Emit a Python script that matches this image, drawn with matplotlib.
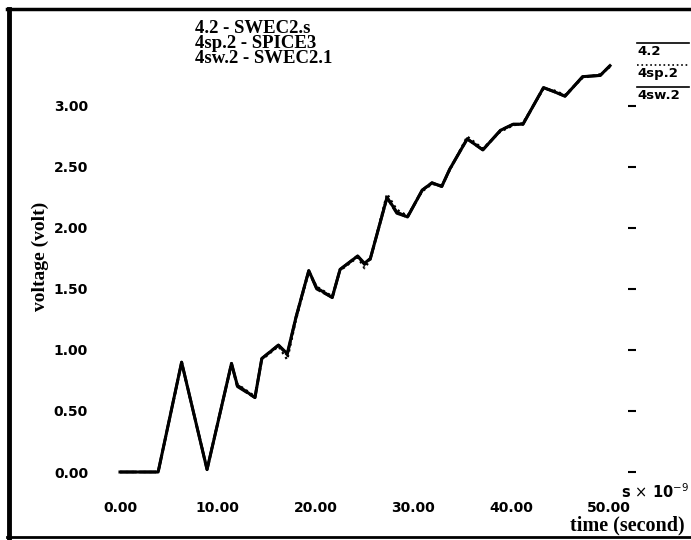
import matplotlib
matplotlib.use("Agg")
import matplotlib.pyplot as plt
from matplotlib.lines import Line2D

# time in ns, voltage in volt
t_ns = [0, 3.9, 6.3, 8.9, 11.4, 12.0, 13.8, 14.5, 16.2, 17.1, 18.0, 19.3, 20.1,
        21.7, 22.5, 24.3, 25.0, 25.6, 27.3, 28.3, 29.4, 30.9, 31.9, 32.9, 33.7,
        35.5, 37.1, 38.9, 40.2, 41.2, 43.3, 44.3, 45.5, 47.3, 49.1, 50.1]
v_swec2s = [0.00, 0.00, 0.90, 0.02, 0.89, 0.71, 0.61, 0.93, 1.04, 0.97, 1.27, 1.65, 1.51,
            1.43, 1.66, 1.77, 1.71, 1.75, 2.25, 2.13, 2.09, 2.31, 2.37, 2.34, 2.48,
            2.73, 2.64, 2.80, 2.85, 2.85, 3.15, 3.12, 3.08, 3.24, 3.25, 3.33]
v_spice3 = [0.00, 0.00, 0.89, 0.03, 0.88, 0.72, 0.62, 0.92, 1.03, 0.92, 1.25, 1.64, 1.52,
            1.44, 1.65, 1.76, 1.67, 1.74, 2.28, 2.15, 2.10, 2.30, 2.36, 2.35, 2.47,
            2.75, 2.65, 2.79, 2.84, 2.86, 3.14, 3.13, 3.09, 3.23, 3.26, 3.32]
v_swec21 = [0.00, 0.00, 0.90, 0.02, 0.89, 0.70, 0.61, 0.93, 1.04, 0.96, 1.27, 1.65, 1.50,
            1.43, 1.66, 1.77, 1.70, 1.75, 2.25, 2.12, 2.09, 2.31, 2.37, 2.34, 2.48,
            2.73, 2.64, 2.80, 2.85, 2.85, 3.15, 3.12, 3.08, 3.24, 3.25, 3.33]

xticks = [0, 10, 20, 30, 40, 50]
yticks = [0.0, 0.5, 1.0, 1.5, 2.0, 2.5, 3.0]

W, H = 691, 540
fig = plt.figure(figsize=(6.91, 5.4), dpi=100)
ax = fig.add_axes([120 / W, 68 / H, 512 / W, 404 / H])

ax.plot(t_ns, v_swec21, color="black", lw=2.0, ls=(0, (6, 1)), clip_on=False)
ax.plot(t_ns, v_spice3, color="black", lw=1.6, ls=":", clip_on=False)
ax.plot(t_ns, v_swec2s, color="black", lw=2.2, clip_on=False)

ax.set_xlim(0, 52.35)
ax.set_ylim(0, 3.311)
for s in ax.spines.values():
    s.set_visible(False)

ax.set_xticks(xticks)
ax.set_xticklabels(["%.2f" % x for x in xticks], fontsize=10, fontweight="bold")
ax.set_yticks(yticks)
ax.set_yticklabels(["%.2f" % y for y in yticks], fontsize=10, fontweight="bold")
ax.tick_params(axis="x", length=0, pad=21)
ax.tick_params(axis="y", left=False, right=True, labelleft=True, direction="inout",
               length=6, width=1.5, pad=20)

serif = "Liberation Serif"
fig.text(40 / W, 1 - 256 / H, "voltage (volt)", rotation=90, ha="center", va="center",
         family=serif, fontweight="bold", fontsize=14)
fig.text(685 / W, 1 - 525 / H, "time (second)", ha="right", va="center",
         family=serif, fontweight="bold", fontsize=14.5)
fig.text(689 / W, 1 - 492 / H, r"s $\times$ 10$^{-9}$", ha="right", va="center",
         fontweight="bold", fontsize=10.5)

# legend text, top left (one block, tight line pitch like the original)
names = ["4.2 - SWEC2.s", "4sp.2 - SPICE3", "4sw.2 - SWEC2.1"]
fig.text(195 / W, 1 - 20 / H, "\n".join(names), ha="left", va="top",
         family=serif, fontweight="bold", fontsize=13.5, linespacing=0.86)

# legend samples, top right
keys = ["4.2", "4sp.2", "4sw.2"]
styles = ["-", ":", "-"]
for i, (k, st) in enumerate(zip(keys, styles)):
    yl = 1 - (43 + 22 * i) / H
    fig.add_artist(Line2D([637 / W, 689 / W], [yl, yl], color="black", lw=1.2, ls=st))
    fig.text(637 / W, yl - 2 / H, k, ha="left", va="top", fontweight="bold", fontsize=9.5)

# frame around the figure
fig.add_artist(Line2D([9 / W, 9 / W], [1 - 538 / H, 1 - 9 / H], color="black", lw=3.5))
fig.add_artist(Line2D([7 / W, 1.0], [1 - 9 / H, 1 - 9 / H], color="black", lw=2.5))
fig.add_artist(Line2D([7 / W, 1.0], [1 - 537 / H, 1 - 537 / H], color="black", lw=2))

fig.savefig("out.png", dpi=100)
